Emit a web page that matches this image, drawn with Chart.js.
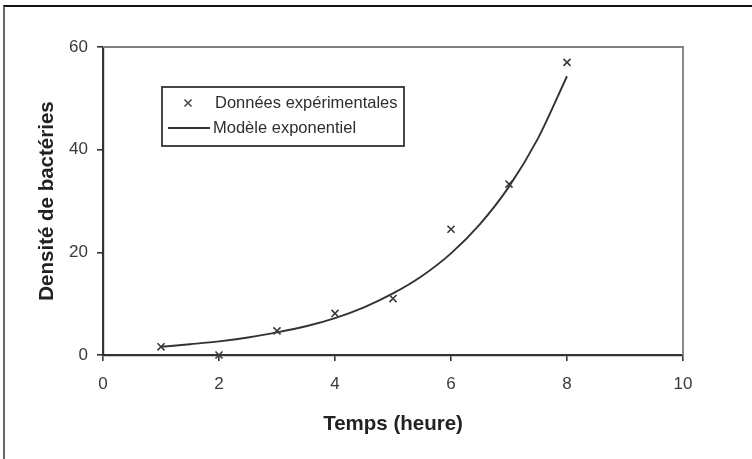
<!DOCTYPE html>
<html>
<head>
<meta charset="utf-8">
<script src="https://cdn.jsdelivr.net/npm/chart.js@4"></script>
<style>
    html, body { margin: 0; padding: 0; background: #fff; }
    .cadre {
        position: absolute;
        left: 3px;
        top: 5px;
        width: 747px;
        height: 452px;
        border-top: 2px solid #111;
        border-left: 2px solid #666;
    }
    canvas { display: block; }
</style>
</head>
<body>
<div class="cadre"><canvas id="croissance" width="747" height="452"></canvas></div>
<script>
// Données
const temps = [1, 2, 3, 4, 5, 6, 7, 8];
const densite = [1.6, 0, 4.7, 8.1, 11.0, 24.5, 33.3, 57.0];

// Courbe du modèle (relevée point par point)
const modeleTemps = [1, 1.5, 2, 2.5, 3, 3.5, 4, 4.5, 5, 5.5, 6, 6.5, 7, 7.5, 8];
const modeleDensite = [1.6, 2.1, 2.65, 3.4, 4.4, 5.6, 7.2, 9.3, 12.0, 15.4, 19.8, 25.5, 32.8, 42.2, 54.3];

const xTicks = [0, 2, 4, 6, 8, 10];
const yTicks = [0, 20, 40, 60];

const police = '"Liberation Sans", Arial, sans-serif';
const couleurTexte = '#2e2e2e';

// Cadre de la zone de tracé
const cadrePlugin = {
    id: 'cadre',
    beforeDatasetsDraw(chart) {
        const { ctx, chartArea: a } = chart;
        ctx.save();
        ctx.strokeStyle = '#808080';
        ctx.lineWidth = 1.8;
        ctx.beginPath();
        ctx.moveTo(a.left, a.top);
        ctx.lineTo(a.right, a.top);
        ctx.lineTo(a.right, a.bottom);
        ctx.stroke();
        ctx.restore();
    }
};

// Légende dessinée dans la zone de tracé
const legendePlugin = {
    id: 'legende',
    afterDraw(chart) {
        const { ctx, chartArea: a } = chart;
        const x = a.left + 59, y = a.top + 40, w = 242, h = 59;
        ctx.save();
        ctx.strokeStyle = '#333';
        ctx.lineWidth = 1.8;
        ctx.strokeRect(x, y, w, h);

        ctx.font = '16.5px ' + police;
        ctx.fillStyle = couleurTexte;
        ctx.textBaseline = 'middle';

        // × marqueur
        const mx = x + 26, my = y + 16;
        ctx.strokeStyle = '#444';
        ctx.lineWidth = 1.5;
        ctx.beginPath();
        ctx.moveTo(mx - 3.5, my - 3.5); ctx.lineTo(mx + 3.5, my + 3.5);
        ctx.moveTo(mx + 3.5, my - 3.5); ctx.lineTo(mx - 3.5, my + 3.5);
        ctx.stroke();
        ctx.fillText(chart.data.datasets[0].label, x + 53, my);

        // ligne du modèle
        const ly = y + 41;
        ctx.strokeStyle = '#333';
        ctx.lineWidth = 1.8;
        ctx.beginPath();
        ctx.moveTo(x + 6, ly);
        ctx.lineTo(x + 48, ly);
        ctx.stroke();
        ctx.fillText(chart.data.datasets[1].label, x + 51, ly);
        ctx.restore();
    }
};

new Chart(document.getElementById('croissance'), {
    type: 'scatter',
    data: {
        datasets: [{
            label: 'Données expérimentales',
            data: temps.map((t, i) => ({ x: t, y: densite[i] })),
            pointStyle: 'crossRot',
            pointRadius: 5,
            pointBorderWidth: 1.6,
            borderColor: '#3a3a3a',
            backgroundColor: '#3a3a3a',
            showLine: false,
            clip: false
        }, {
            label: 'Modèle exponentiel',
            data: modeleTemps.map((t, i) => ({ x: t, y: modeleDensite[i] })),
            showLine: true,
            pointRadius: 0,
            borderColor: '#333',
            borderWidth: 1.9,
            cubicInterpolationMode: 'monotone',
            fill: false
        }]
    },
    options: {
        responsive: false,
        animation: false,
        layout: { padding: { top: 40, right: 69, left: 0, bottom: 0 } },
        plugins: {
            legend: { display: false },
            tooltip: { enabled: false }
        },
        scales: {
            x: {
                type: 'linear',
                min: 0,
                max: 10,
                afterFit(scale) { scale.height = 104; },
                afterBuildTicks(scale) { scale.ticks = xTicks.map(v => ({ value: v })); },
                grid: { drawOnChartArea: false, drawTicks: true, tickLength: 6, color: '#333', lineWidth: 1.6 },
                border: { display: true, color: '#333', width: 2.2 },
                ticks: {
                    color: '#3a3a3a',
                    padding: 13,
                    maxRotation: 0,
                    font: { family: police, size: 17 }
                },
                title: {
                    display: true,
                    text: 'Temps (heure)',
                    color: '#222',
                    padding: { top: 0, bottom: 22 },
                    font: { family: police, size: 20.5, weight: 'bold' }
                }
            },
            y: {
                type: 'linear',
                min: 0,
                max: 60,
                afterFit(scale) { scale.width = 98; },
                afterBuildTicks(scale) { scale.ticks = yTicks.map(v => ({ value: v })); },
                grid: { drawOnChartArea: false, drawTicks: true, tickLength: 6, color: '#333', lineWidth: 1.6 },
                border: { display: true, color: '#333', width: 2.2 },
                ticks: {
                    color: '#3a3a3a',
                    padding: 9,
                    font: { family: police, size: 17 }
                },
                title: {
                    display: true,
                    text: 'Densité de bactéries',
                    color: '#222',
                    padding: { top: 30, bottom: 0 },
                    font: { family: police, size: 20.5, weight: 'bold' }
                }
            }
        }
    },
    plugins: [cadrePlugin, legendePlugin]
});
</script>
</body>
</html>
